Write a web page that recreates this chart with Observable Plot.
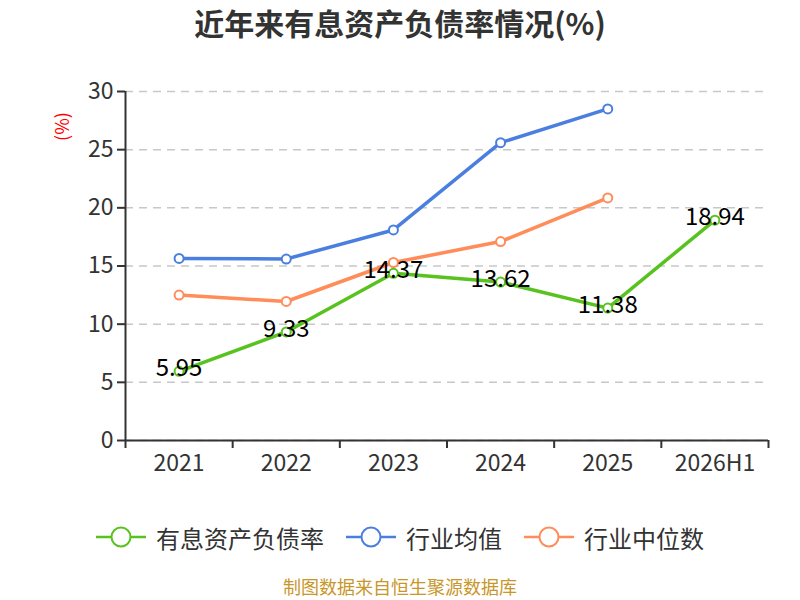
<!DOCTYPE html>
<html>
<head>
<meta charset="utf-8">
<script src="https://cdn.jsdelivr.net/npm/d3@7"></script>
<script src="https://cdn.jsdelivr.net/npm/@observablehq/plot@0.6"></script>
<style>
  body { margin: 0; background: #fff; font-family: "Noto Sans CJK SC", "Noto Sans", sans-serif; }
  #wrap { width: 800px; height: 600px; position: relative; }
  #title { height: 60px; box-sizing: border-box; padding-top: 2px; text-align: center; font-size: 30px; line-height: 40px; font-weight: bold; color: #333; }
  #legend { display: flex; justify-content: center; align-items: center; height: 30px; margin-top: 32px; font-size: 24px; color: #333; }
  .item { display: flex; align-items: center; margin: 0 11px; }
  .item svg { margin-right: 10px; }
  #caption { text-align: center; font-size: 18px; color: #c9962a; margin-top: 22px; line-height: 24px; }
</style>
</head>
<body>
<div id="wrap">
  <div id="title">近年来有息资产负债率情况(%)</div>
  <div id="chart"></div>
  <div id="legend"></div>
  <div id="caption">制图数据来自恒生聚源数据库</div>
</div>
<script>
const categories = ["2021", "2022", "2023", "2024", "2025", "2026H1"];
const debtRatio = [5.95, 9.33, 14.37, 13.62, 11.38, 18.94];
const industryMean = [15.65, 15.6, 18.1, 25.6, 28.5];
const industryMedian = [12.5, 11.95, 15.3, 17.1, 20.85];
const yTicks = [0, 5, 10, 15, 20, 25, 30];
const seriesNames = ["有息资产负债率", "行业均值", "行业中位数"];
const seriesColors = ["#58c21e", "#4a7fe0", "#ff8c59"];

const toRows = (vals, name) => vals.map((v, i) => ({ i, v, name }));
const debtRows = toRows(debtRatio, seriesNames[0]);
const meanRows = toRows(industryMean, seriesNames[1]);
const medianRows = toRows(industryMedian, seriesNames[2]);
const allRows = [...meanRows, ...medianRows, ...debtRows];

const boundaries = d3.range(categories.length + 1).map(k => k - 0.5);
const font = '"Noto Sans CJK SC", "Noto Sans", sans-serif';

const chart = Plot.plot({
  width: 800,
  height: 430,
  marginTop: 31,
  marginBottom: 50,
  marginLeft: 125,
  marginRight: 32,
  style: { fontFamily: font, fontSize: "23px", background: "#fff" },
  x: { type: "linear", domain: [-0.5, categories.length - 0.5] },
  y: { domain: [0, 30] },
  color: { domain: seriesNames, range: seriesColors },
  marks: [
    Plot.gridY(yTicks, { stroke: "#c8c8c8", strokeOpacity: 1, strokeWidth: 1.5, strokeDasharray: "8,6" }),
    Plot.axisY(yTicks, { tickSize: 8, tickPadding: 4, label: null, color: "#333", fontSize: 23, strokeWidth: 2 }),
    Plot.axisX(boundaries, { tickSize: 8, tickFormat: () => "", label: null, color: "#333", strokeWidth: 2 }),
    Plot.axisX(d3.range(categories.length), { tickSize: 0, tickPadding: 14, tickFormat: i => categories[i], label: null, color: "#333", fontSize: 23 }),
    Plot.ruleX([-0.5], { y1: 0, y2: 30, stroke: "#333", strokeWidth: 2 }),
    Plot.ruleY([0], { stroke: "#333", strokeWidth: 2 }),
    Plot.text(["(%)"], { frameAnchor: "top-left", textAnchor: "middle", lineAnchor: "middle", dx: -62, dy: 35, rotate: -90, fill: "red", fontSize: 18 }),
    Plot.line(allRows, { x: "i", y: "v", z: "name", stroke: "name", strokeWidth: 3.5 }),
    Plot.dot(allRows, { x: "i", y: "v", stroke: "name", fill: "#fff", r: 4.5, strokeWidth: 2 }),
    Plot.text(debtRows, { x: "i", y: "v", text: d => d.v.toFixed(2), dy: -3, fill: "#000", fontSize: 24 })
  ]
});
document.getElementById("chart").appendChild(chart);

const legend = document.getElementById("legend");
seriesNames.forEach((name, k) => {
  const item = document.createElement("div");
  item.className = "item";
  item.innerHTML = `<svg width="50" height="24"><line x1="0" x2="50" y1="12" y2="12" stroke="${seriesColors[k]}" stroke-width="2.5"/><circle cx="25" cy="12" r="9.5" fill="#fff" stroke="${seriesColors[k]}" stroke-width="2"/></svg><span>${name}</span>`;
  legend.appendChild(item);
});
</script>
</body>
</html>
